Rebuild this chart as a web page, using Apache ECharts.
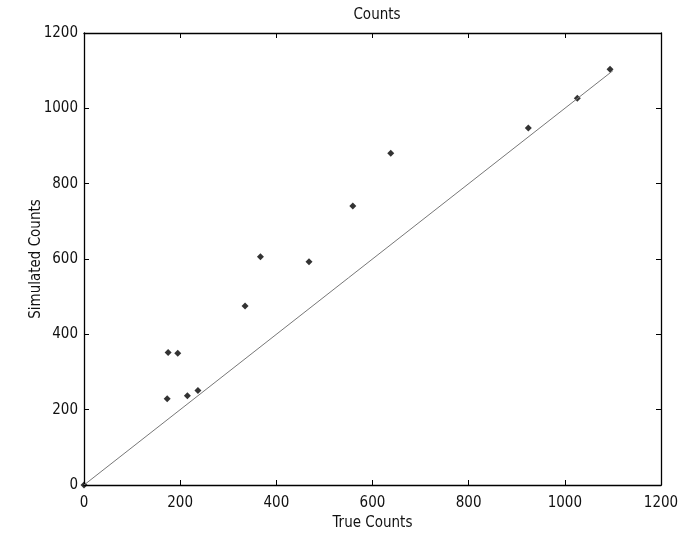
<!DOCTYPE html>
<html>
<head>
<meta charset="utf-8">
<script src="https://cdn.jsdelivr.net/npm/echarts@6/dist/echarts.min.js"></script>
<style>html,body{margin:0;padding:0;background:#fff}#c{width:683px;height:538px}</style>
</head>
<body>
<div id="c"></div>
<script>
var trueCounts = [0, 173, 175, 195, 215, 237, 335, 367, 468, 559, 638, 924, 1026, 1094];
var simulatedCounts = [0, 229, 352, 350, 237, 251, 475, 606, 593, 741, 881, 948, 1027, 1104];
var refLineX = [0, 1100];
var refLineY = [0, 1100];
var tickValues = [0, 200, 400, 600, 800, 1000, 1200];

var FONT = '"Liberation Sans Narrow", "DejaVu Sans Condensed", "Liberation Sans", sans-serif';
var points = trueCounts.map(function (v, i) { return [v, simulatedCounts[i]]; });
var line = refLineX.map(function (v, i) { return [v, refLineY[i]]; });
function plain(v) { return String(v); }

function axisBase(extra) {
  var a = {
    type: 'value', min: tickValues[0], max: tickValues[tickValues.length - 1], interval: 200,
    axisLine: { show: true, onZero: false, lineStyle: { color: '#000', width: 1.3 } },
    axisTick: { show: true, inside: true, length: 5, lineStyle: { color: '#000' } },
    splitLine: { show: false },
    axisLabel: { show: true, color: '#111', fontFamily: FONT, fontSize: 15, formatter: plain }
  };
  for (var k in extra) a[k] = extra[k];
  return a;
}

var chart = echarts.init(document.getElementById('c'), null, { renderer: 'canvas' });
chart.setOption({
  animation: false,
  backgroundColor: '#fff',
  title: {
    text: 'Counts', left: 372, top: 3, textAlign: 'center',
    textStyle: { fontFamily: FONT, fontSize: 15, fontWeight: 'normal', color: '#111' }
  },
  grid: { left: 84, right: 22, top: 33, bottom: 53 },
  xAxis: [
    axisBase({
      position: 'bottom', name: 'True Counts', nameLocation: 'middle', nameGap: 30,
      nameTextStyle: { fontFamily: FONT, fontSize: 15, color: '#111' },
      axisLabel: { show: true, color: '#111', fontFamily: FONT, fontSize: 15, margin: 11, formatter: plain }
    }),
    axisBase({ position: 'top', axisLabel: { show: false } })
  ],
  yAxis: [
    axisBase({
      position: 'left', name: 'Simulated Counts', nameLocation: 'middle', nameGap: 40,
      nameMoveOverlap: false,
      nameTextStyle: { fontFamily: FONT, fontSize: 15, color: '#111' },
      axisLabel: { show: true, color: '#111', fontFamily: FONT, fontSize: 15, margin: 6, formatter: plain }
    }),
    axisBase({ position: 'right', axisLabel: { show: false } })
  ],
  series: [
    {
      type: 'line', data: line, showSymbol: false, symbol: 'none',
      lineStyle: { color: '#777', width: 1 }, silent: true
    },
    {
      type: 'scatter', data: points, symbol: 'diamond', symbolSize: 7,
      itemStyle: { color: '#000' }
    }
  ]
});
</script>
</body>
</html>
